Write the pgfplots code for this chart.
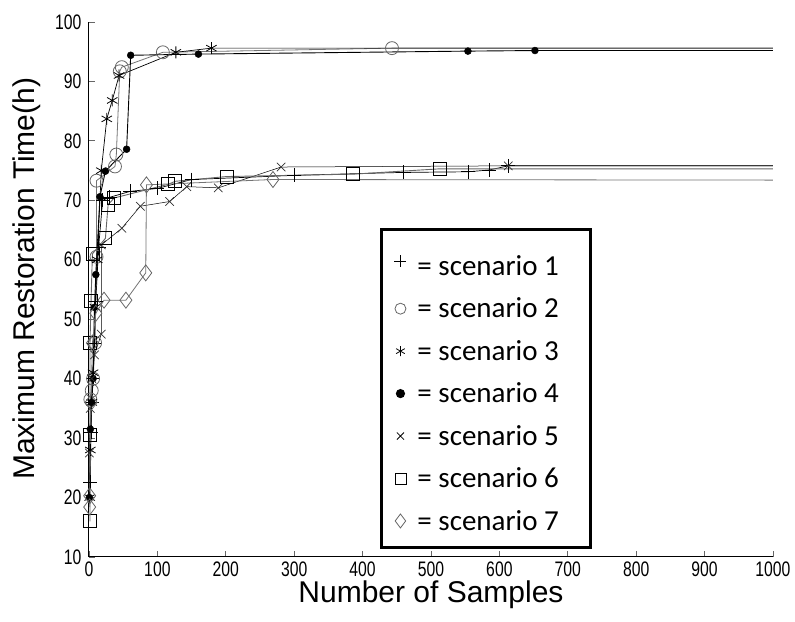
\documentclass[border=0pt]{standalone}
\usepackage{fontspec}
\setmainfont{Liberation Sans}
\newfontfamily\legfont{Carlito}
\newfontfamily\tickfont[FakeStretch=0.75]{Liberation Sans}
\usepackage{pgfplots}
\pgfplotsset{compat=1.18}
\begin{document}
\begin{tikzpicture}
\begin{axis}[
  scale only axis, width=684pt, height=535pt,
  xmin=0, xmax=1000, ymin=10, ymax=100,
  clip=false,
  axis x line*=bottom, axis y line*=left,
  axis line style={black, line width=1pt},
  xtick={0,100,...,1000}, ytick={10,20,...,100},
  tick align=inside, major tick length=6pt,
  tick style={black!60, line width=0.8pt},
  /pgf/number format/assume math mode=true,
  /pgf/number format/1000 sep={},
  tick label style={font=\tickfont\fontsize{21}{21}\selectfont},
  xticklabel style={yshift=-1pt},
  yticklabel style={xshift=-4pt},
  label style={font=\fontsize{30}{32}\selectfont},
  xlabel={Number of Samples}, ylabel={Maximum Restoration Time(h)},
  xlabel style={at={(axis description cs:0.5,-0.0860)}, anchor=base},
  ylabel style={at={(axis description cs:-0.0906,0.52)}, anchor=center},
  legend style={at={(rel axis cs:0.4254,0.615)}, anchor=north west, draw=black, line width=3pt,
    font=\legfont\fontsize{29}{33}\selectfont, row sep=17pt, inner xsep=13pt, inner ysep=14pt},
  legend cell align=left,
]
\path (rel axis cs:-0.1301,-0.1215) rectangle (rel axis cs:1.0322,1.0411);
% scenario 1 (+)
\addplot[black, line width=0.7pt, forget plot] coordinates {(2,22.6)(3,31)(4,36)(6,40)(8,46)(10,53)(14,62)(20,70)(30,70.5)(60,71.5)(100,72)(150,73.5)(300,74.2)(460,74.7)(554,74.8)(585,75.1)(613,75.8)(1000,75.8)};
\addplot[only marks, mark=+, mark size=7pt, black, line width=0.8pt, forget plot] coordinates {(2,22.6)(3,31)(4,36)(6,40)(8,46)(10,53)(14,62)(20,70)(30,70.5)(60,71.5)(100,72)(150,73.5)(300,74.2)(460,74.7)(554,74.8)(585,75.1)(613,75.8)};
% scenario 2 (o)
\addplot[black!55, line width=0.8pt, forget plot] coordinates {(2,36.5)(4,38)(6,40)(9,46)(11,60.5)(11,73.3)(38,75.7)(40,77.7)(45,91.7)(48,92.4)(108,94.9)(443,95.6)(1000,95.6)};
\addplot[only marks, mark=o, mark size=6.5pt, black!60, line width=0.8pt, forget plot] coordinates {(2,36.5)(4,38)(6,40)(9,46)(11,60.5)(11,73.3)(38,75.7)(40,77.7)(45,91.7)(48,92.4)(108,94.9)(443,95.6)};
% scenario 3 (*)
\addplot[black, line width=0.7pt, forget plot] coordinates {(1,20)(2,28)(4,36)(6,41)(9,52)(12,60)(18,75)(26,83.7)(34,86.8)(44,91)(127,94.9)(179,95.6)(1000,95.6)};
\addplot[only marks, mark=asterisk, mark size=6pt, black, line width=0.8pt, forget plot] coordinates {(1,20)(2,28)(4,36)(6,41)(9,52)(12,60)(18,75)(26,83.7)(34,86.8)(44,91)(127,94.9)(179,95.6)};
% scenario 4 (filled dot)
\addplot[black, line width=0.9pt, forget plot] coordinates {(0.5,20)(2,31.5)(4,36)(6,40)(8,52)(10,57.5)(16,70.6)(24,74.9)(55,78.6)(61,94.4)(160,94.6)(554,95.1)(652,95.2)(1000,95.2)};
\addplot[only marks, mark=*, mark size=3.5pt, black, forget plot] coordinates {(0.5,20)(2,31.5)(4,36)(6,40)(8,52)(10,57.5)(16,70.6)(24,74.9)(55,78.6)(61,94.4)(160,94.6)(554,95.1)(652,95.2)};
% scenario 5 (x)
\addplot[black, line width=0.5pt, forget plot] coordinates {(0.5,27.5)(2,35)(4,40)(8,44)(18,47.5)(18,62.5)(48,65.3)(75,69)(118,69.8)(143,72.3)(189,72.1)(281,75.6)(613,75.8)(1000,75.8)};
\addplot[only marks, mark=x, mark size=6pt, black!80, line width=0.7pt, forget plot] coordinates {(0.5,27.5)(2,35)(4,40)(8,44)(18,47.5)(18,62.5)(48,65.3)(75,69)(118,69.8)(143,72.3)(189,72.1)(281,75.6)(613,75.8)};
% scenario 6 (square)
\addplot[black!60, line width=0.9pt, forget plot] coordinates {(1.5,16)(1.5,30.5)(1.5,46)(3,53)(5,61)(24,63.6)(28,69.3)(37,70.4)(116,72.7)(126,73.2)(201,74)(386,74.4)(513,75.3)(1000,75.3)};
\addplot[only marks, mark=square, mark size=6.5pt, black, line width=0.8pt, forget plot] coordinates {(1.5,16)(1.5,30.5)(1.5,46)(3,53)(5,61)(24,63.6)(28,69.3)(37,70.4)(116,72.7)(126,73.2)(201,74)(386,74.4)(513,75.3)};
% scenario 7 (diamond)
\addplot[black!55, line width=0.8pt, forget plot] coordinates {(1,18.4)(1,20.3)(3,36)(5,46)(10,51)(22,53.2)(54,53.2)(83,57.8)(84,72.6)(269,73.5)(1000,73.4)};
\addplot[only marks, mark=diamond, mark size=8pt, black!60, line width=0.8pt, forget plot] coordinates {(1,18.4)(1,20.3)(3,36)(5,46)(10,51)(22,53.2)(54,53.2)(83,57.8)(84,72.6)(269,73.5)};
% legend
\addlegendimage{only marks, mark=+, mark size=6pt, black, line width=0.8pt}
\addlegendentry{\hspace*{9pt}\rule{0pt}{30pt}= scenario 1\rule{17pt}{0pt}}
\addlegendimage{only marks, mark=o, mark size=5.5pt, black!60, line width=0.8pt}
\addlegendentry{\hspace*{9pt}= scenario 2}
\addlegendimage{only marks, mark=asterisk, mark size=5pt, black, line width=0.8pt}
\addlegendentry{\hspace*{9pt}= scenario 3}
\addlegendimage{only marks, mark=*, mark size=3pt, black}
\addlegendentry{\hspace*{9pt}= scenario 4}
\addlegendimage{only marks, mark=x, mark size=5pt, black, line width=0.8pt}
\addlegendentry{\hspace*{9pt}= scenario 5}
\addlegendimage{only marks, mark=square, mark size=5.5pt, black, line width=0.8pt}
\addlegendentry{\hspace*{9pt}= scenario 6}
\addlegendimage{only marks, mark=diamond, mark size=7pt, black!60, line width=0.8pt}
\addlegendentry{\hspace*{9pt}= scenario 7}
\end{axis}
\end{tikzpicture}
\end{document}
